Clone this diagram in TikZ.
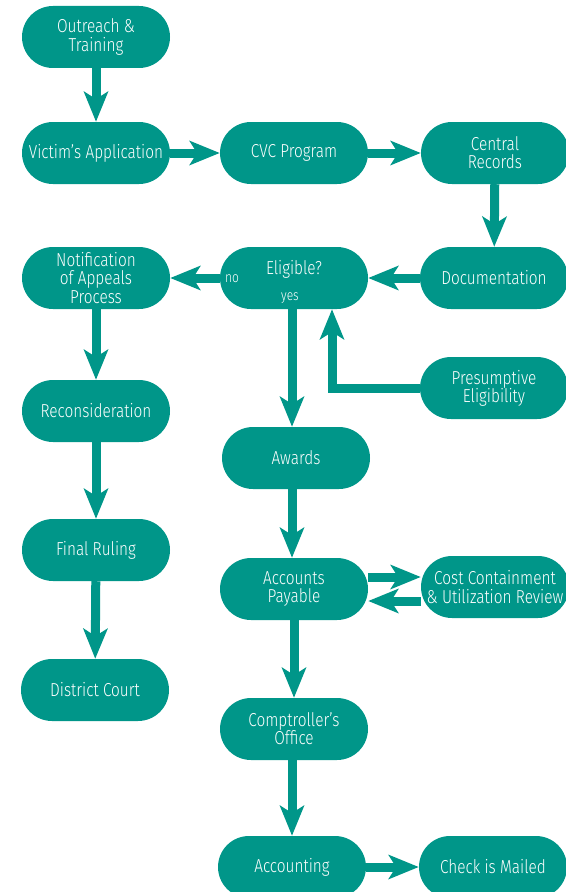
\documentclass[tikz,border=0pt]{standalone}
\usepackage{fontspec}
\setmainfont{Fira Sans Light}[FakeStretch=0.82]
\usetikzlibrary{arrows.meta,positioning}
\definecolor{tealbox}{RGB}{0,150,137}

\begin{document}
\begin{tikzpicture}[
    box/.style={fill=tealbox, rounded corners=0.93cm, minimum width=4.44cm, minimum height=1.86cm,
                inner sep=0pt, text=white, align=center, font=\fontsize{16}{15.5}\selectfont},
    flow/.style={tealbox, line width=0.27cm, -{Stealth[length=0.9cm, width=0.72cm, inset=0.22cm]}},
    lbl/.style={text=white, inner sep=0pt, font=\fontsize{12.5}{13}\selectfont},
]
\useasboundingbox (0,0) rectangle (16.98,-26.76);
\node[box] (outreach) at (2.88,-1.11) {Outreach \&\\Training};
\node[box] (victim) at (2.88,-4.59) {Victim’s Application};
\node[box] (cvc) at (8.82,-4.59) {CVC Program};
\node[box] (central) at (14.85,-4.59) {Central\\Records};
\node[box] (doc) at (14.82,-8.34) {Documentation};
\node[box] (elig) at (8.82,-8.34) {};
\node[lbl, font=\fontsize{16}{15.5}\selectfont] (eligtxt) at (8.82,-8.07) {Eligible?};
\node[lbl] (no) at (6.96,-8.37) {no};
\node[lbl] (yes) at (8.70,-8.94) {yes};
\node[box] (notif) at (2.88,-8.34) {Notification\\of Appeals\\Process};
\node[box] (pres) at (14.82,-11.64) {Presumptive\\Eligibility};
\node[box] (recon) at (2.88,-12.33) {Reconsideration};
\node[box] (awards) at (8.88,-13.74) {Awards};
\node[box] (final) at (2.88,-16.5) {Final Ruling};
\node[box] (pay) at (8.82,-17.67) {Accounts\\Payable};
\node[box] (cost) at (14.85,-17.61) {Cost Containment\\\& Utilization Review};
\node[box] (district) at (2.85,-20.7) {District Court};
\node[box] (comp) at (8.82,-21.87) {Comptroller’s\\Office};
\node[box] (acct) at (8.76,-26.01) {Accounting};
\node[box] (check) at (14.79,-26.01) {Check is Mailed};

\draw[flow] (outreach) -- (victim);
\draw[flow] (victim) -- (cvc);
\draw[flow] (cvc) -- (central);
\draw[flow] (central) -- (doc);
\draw[flow] (doc) -- (elig);
\draw[flow] (elig) -- (notif);
\draw[flow] (notif) -- (recon);
\draw[flow] (recon) -- (final);
\draw[flow] (final) -- (district);
\draw[flow] ([xshift=-0.06cm]elig.south) -- ([xshift=-0.06cm]elig.south |- awards.north);
\draw[flow] (pres.west) -| ([xshift=1.14cm]elig.south);
\draw[flow] ([xshift=-0.06cm]awards.south -| pay.north) -- ([xshift=-0.06cm]pay.north);
\draw[flow] ([yshift=0.36cm]pay.east) -- ([yshift=0.36cm]pay.east -| cost.west);
\draw[flow] ([yshift=-0.36cm]pay.east -| cost.west) -- ([yshift=-0.36cm]pay.east);
\draw[flow] (pay) -- (comp);
\draw[flow] ([xshift=-0.06cm]comp.south) -- ([xshift=-0.06cm]comp.south |- acct.north);
\draw[flow] (acct) -- (check);
\end{tikzpicture}
\end{document}
